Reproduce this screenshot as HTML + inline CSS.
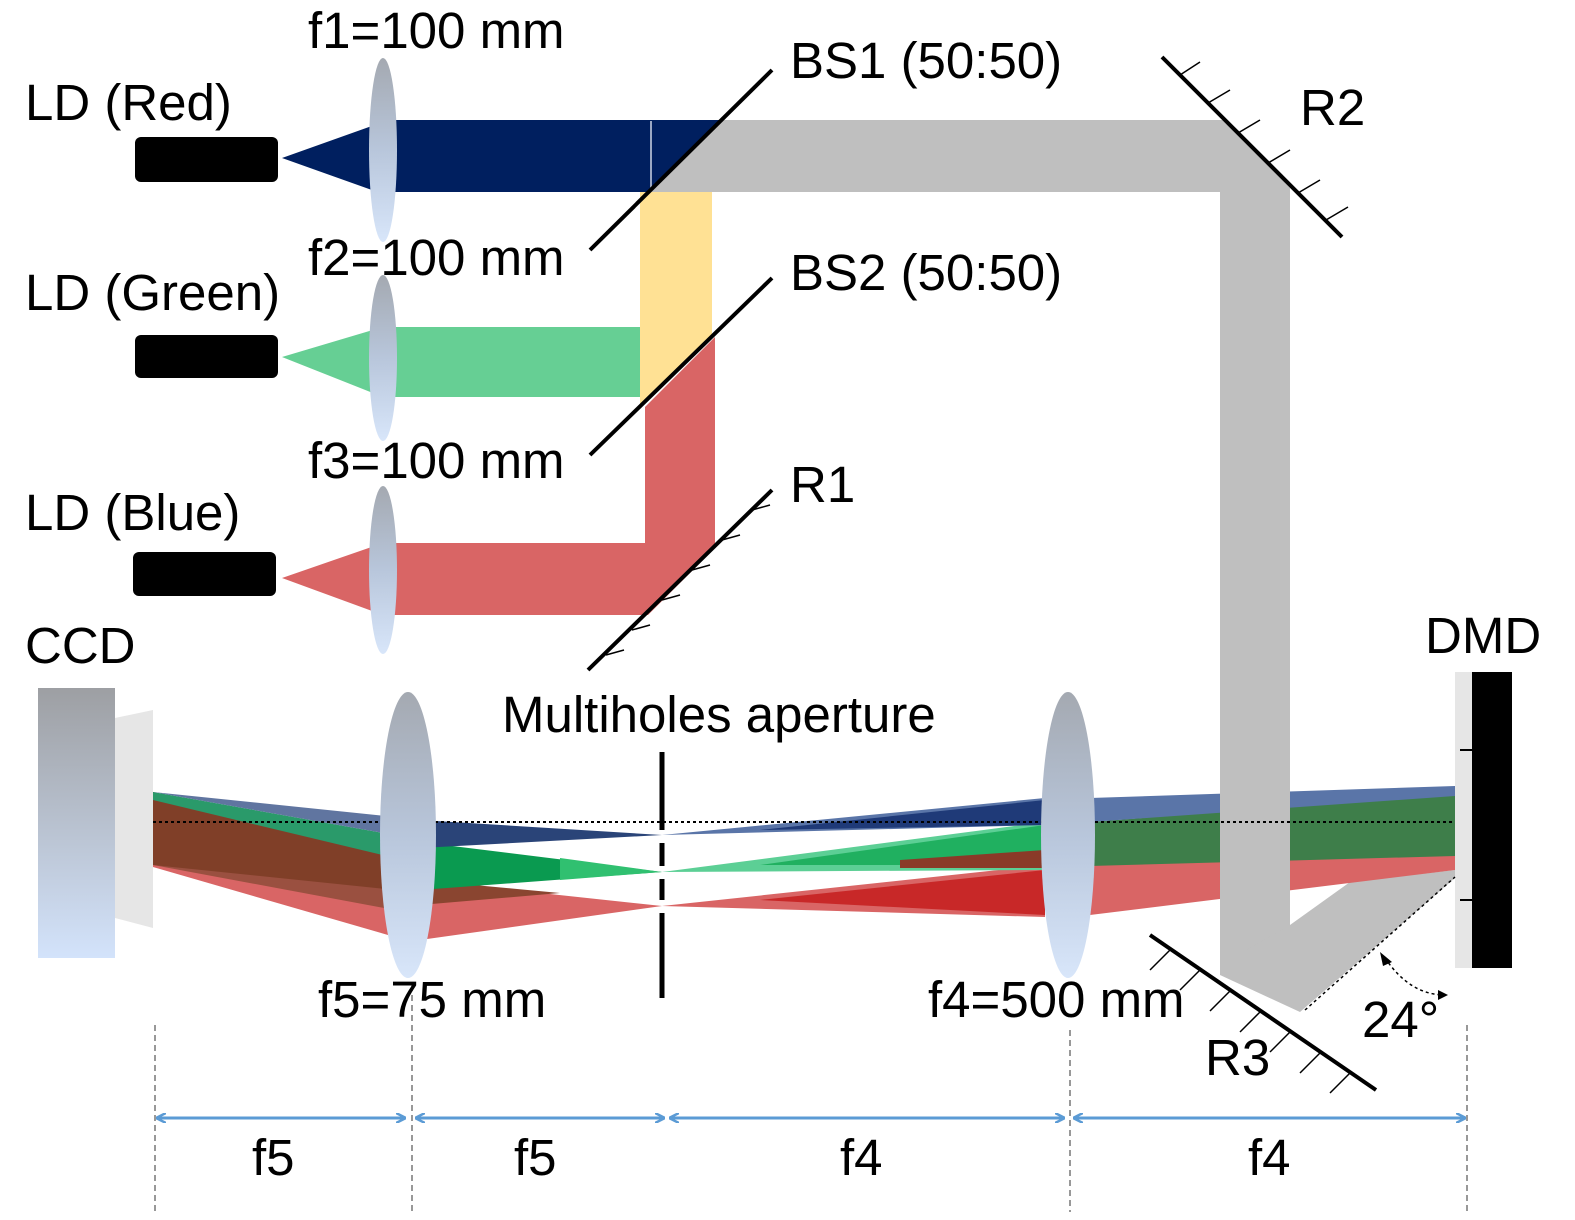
<!DOCTYPE html>
<html><head><meta charset="utf-8"><style>
html,body{margin:0;padding:0;background:#fff}
svg{display:block}
text{font-family:"Liberation Sans",Arial,sans-serif;font-size:51px;fill:#000}
</style></head><body>
<svg width="1575" height="1220" viewBox="0 0 1575 1220" xmlns="http://www.w3.org/2000/svg">
<defs>
<linearGradient id="lg" x1="0" y1="0" x2="0" y2="1">
<stop offset="0" stop-color="#a4a9b1"/><stop offset="0.5" stop-color="#b8c6db"/><stop offset="1" stop-color="#d8e6fa"/></linearGradient>
<linearGradient id="ccd" x1="0" y1="0" x2="0" y2="1">
<stop offset="0" stop-color="#9d9fa3"/><stop offset="1" stop-color="#d3e3fb"/></linearGradient>
<marker id="ah" markerWidth="10" markerHeight="10" refX="9" refY="5" orient="auto-start-reverse" markerUnits="userSpaceOnUse">
<path d="M0,0 L10,5 L0,10" fill="none" stroke="#5b9bd5" stroke-width="2.5"/></marker>
</defs>

<polygon points="1226,120 722,120 650,192 1220,192 1220,975 1300,1012 1455,878 1455,870 1350,882 1290,925 1290,188" fill="#bfbfbf"/>
<polygon points="650,192 712,192 712,336 640,406 640,192" fill="#ffe194"/>
<polygon points="282,158 383,122 383,120 722,120 650,192 383,192 383,194" fill="#001f5f"/>
<line x1="651" y1="121" x2="651" y2="190" stroke="#cfd6e6" stroke-width="1.5"/>
<polygon points="282,357 383,327 640,327 640,397 383,397" fill="#66cf94"/>
<polygon points="282,578 383,543 645,543 645,407 715,337 715,548 648,615 383,615" fill="#d96565"/>

<rect x="135" y="137" width="143" height="45" rx="6" fill="#000"/>
<rect x="135" y="335" width="143" height="43" rx="6" fill="#000"/>
<rect x="133" y="552" width="143" height="44" rx="6" fill="#000"/>

<ellipse cx="383" cy="150" rx="14" ry="92" fill="url(#lg)"/>
<ellipse cx="383" cy="358" rx="14" ry="83" fill="url(#lg)"/>
<ellipse cx="383" cy="570" rx="14" ry="84" fill="url(#lg)"/>

<g stroke="#000" stroke-width="4">
<line x1="590" y1="250" x2="772" y2="70"/>
<line x1="590" y1="455" x2="772" y2="278"/>
<line x1="588" y1="670" x2="772" y2="490"/>
<line x1="1162" y1="57" x2="1342" y2="237"/>
<line x1="1150" y1="935" x2="1376" y2="1090"/>
</g>
<g stroke="#000" stroke-width="1.5">
<line x1="752" y1="510" x2="770" y2="505"/><line x1="722" y1="540" x2="740" y2="535"/><line x1="692" y1="570" x2="710" y2="565"/><line x1="662" y1="600" x2="680" y2="595"/><line x1="632" y1="630" x2="650" y2="625"/><line x1="606" y1="655" x2="624" y2="650"/>
<line x1="1180" y1="75" x2="1200" y2="62"/><line x1="1208" y1="103" x2="1230" y2="90"/><line x1="1238" y1="133" x2="1260" y2="120"/><line x1="1268" y1="163" x2="1290" y2="150"/><line x1="1298" y1="193" x2="1320" y2="180"/><line x1="1326" y1="220" x2="1348" y2="207"/>
<line x1="1170" y1="950" x2="1150" y2="970"/><line x1="1200" y1="970" x2="1180" y2="990"/><line x1="1230" y1="991" x2="1210" y2="1011"/><line x1="1260" y1="1012" x2="1240" y2="1032"/><line x1="1290" y1="1032" x2="1270" y2="1052"/><line x1="1320" y1="1053" x2="1300" y2="1073"/><line x1="1350" y1="1073" x2="1330" y2="1093"/>
</g>

<rect x="38" y="688" width="77" height="270" fill="url(#ccd)"/>
<polygon points="115,718 153,710 153,928 115,918" fill="#e6e6e6"/>

<!-- left of f5 -->
<polygon points="153,792 395,885 395,937 153,867" fill="#d96565"/>
<polygon points="153,792 395,858 395,910 153,865" fill="#9a5040"/>
<polygon points="153,792 395,858 395,890 153,865" fill="#803f28"/>
<polygon points="153,792 395,835 395,858 153,800" fill="#2a9a6a"/>
<polygon points="153,792 395,817 395,835" fill="#6075a0"/>
<!-- f5 to aperture -->
<polygon points="420,880 420,940 662,906" fill="#d96565"/>
<polygon points="420,880 420,905 560,893" fill="#8a4530"/>
<polygon points="420,842 420,890 662,872" fill="#0a9a50"/>
<polygon points="560,858 662,872 560,880" fill="#30c070"/>
<polygon points="420,820 420,848 662,835" fill="#2a4478"/>
<!-- aperture to f4 -->
<polygon points="662,906 1045,865 1045,917" fill="#d96565"/>
<polygon points="760,900 1045,870 1045,915" fill="#c82828"/>
<polygon points="662,872 1045,822 1045,870" fill="#5ccf95"/>
<polygon points="760,865 1045,825 1045,865" fill="#20b060"/>
<polygon points="900,860 1045,850 1045,868 900,868" fill="#8a3a28"/>
<polygon points="662,835 1045,798 1045,825" fill="#5a75a8"/>
<polygon points="760,830 1045,800 1045,825" fill="#1f3a78"/>
<!-- f4 to DMD -->
<polygon points="1090,865 1455,855 1455,870 1090,915" fill="#d96565"/>
<polygon points="1090,822 1455,794 1455,856 1090,866" fill="#3e7e4a"/>
<polygon points="1090,798 1455,786 1455,796 1090,822" fill="#5a75a8"/>
<polygon points="1220,780 1290,780 1290,925 1220,965" fill="#bfbfbf"/>

<line x1="153" y1="822" x2="1462" y2="822" stroke="#000" stroke-width="2" stroke-dasharray="3,3"/>

<ellipse cx="408" cy="835" rx="28" ry="143" fill="url(#lg)"/>
<ellipse cx="1068" cy="835" rx="27" ry="143" fill="url(#lg)"/>

<g stroke="#000" stroke-width="5">
<line x1="662" y1="752" x2="662" y2="830"/><line x1="662" y1="843" x2="662" y2="866"/><line x1="662" y1="879" x2="662" y2="900"/><line x1="662" y1="913" x2="662" y2="998"/>
</g>

<rect x="1455" y="672" width="17" height="296" fill="#e6e6e6"/>
<rect x="1472" y="672" width="40" height="296" fill="#000"/>
<g stroke="#000" stroke-width="2"><line x1="1460" y1="750" x2="1472" y2="750"/><line x1="1460" y1="900" x2="1472" y2="900"/></g>

<line x1="1305" y1="1010" x2="1455" y2="877" stroke="#000" stroke-width="1.5" stroke-dasharray="3,3"/>
<path d="M1385,958 Q1410,995 1445,995" fill="none" stroke="#000" stroke-width="1.5" stroke-dasharray="3,3"/>
<polygon points="1380,952 1392,962 1383,966" fill="#000"/>
<polygon points="1448,995 1438,990 1438,1000" fill="#000"/>

<g stroke="#777" stroke-width="1.5" stroke-dasharray="6,4">
<line x1="155" y1="1025" x2="155" y2="1212"/><line x1="412" y1="985" x2="412" y2="1212"/><line x1="1070" y1="1030" x2="1070" y2="1212"/><line x1="1467" y1="1025" x2="1467" y2="1212"/>
</g>
<g stroke="#5b9bd5" stroke-width="3">
<line x1="157" y1="1118" x2="405" y2="1118" marker-start="url(#ah)" marker-end="url(#ah)"/>
<line x1="416" y1="1118" x2="664" y2="1118" marker-start="url(#ah)" marker-end="url(#ah)"/>
<line x1="670" y1="1118" x2="1064" y2="1118" marker-start="url(#ah)" marker-end="url(#ah)"/>
<line x1="1074" y1="1118" x2="1465" y2="1118" marker-start="url(#ah)" marker-end="url(#ah)"/>
</g>

<text x="308" y="48">f1=100 mm</text>
<text x="25" y="120">LD (Red)</text>
<text x="790" y="78">BS1 (50:50)</text>
<text x="1300" y="125">R2</text>
<text x="308" y="275">f2=100 mm</text>
<text x="25" y="310">LD (Green)</text>
<text x="790" y="290">BS2 (50:50)</text>
<text x="308" y="478">f3=100 mm</text>
<text x="790" y="502">R1</text>
<text x="25" y="530">LD (Blue)</text>
<text x="25" y="663">CCD</text>
<text x="1425" y="653">DMD</text>
<text x="502" y="732">Multiholes aperture</text>
<text x="318" y="1017">f5=75 mm</text>
<text x="928" y="1017">f4=500 mm</text>
<text x="1205" y="1075">R3</text>
<text x="1362" y="1037">24°</text>
<text x="252" y="1175">f5</text>
<text x="514" y="1175">f5</text>
<text x="840" y="1175">f4</text>
<text x="1248" y="1175">f4</text>
</svg>
</body></html>
